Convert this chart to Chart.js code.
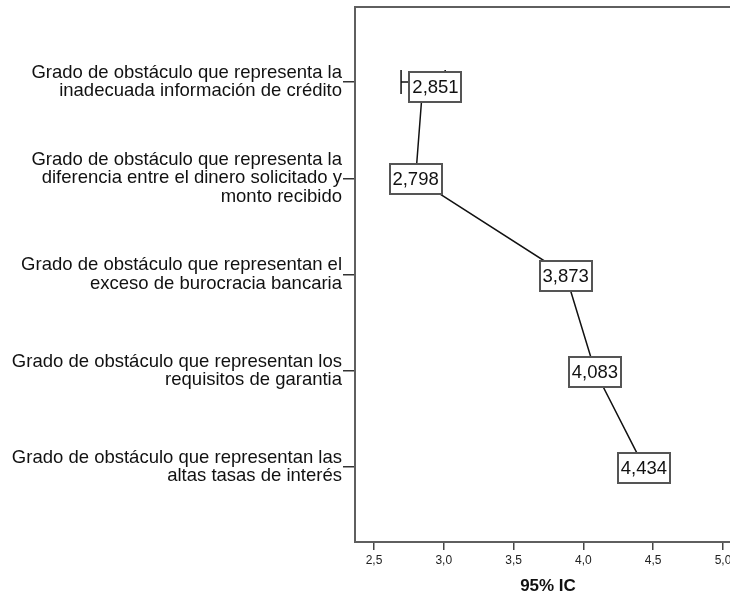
<!DOCTYPE html>
<html>
<head>
<meta charset="utf-8">
<script src="https://cdn.jsdelivr.net/npm/chart.js@4/dist/chart.umd.min.js"></script>
<style>
  html, body { margin: 0; padding: 0; background: #ffffff; overflow: hidden; width: 730px; height: 599px; }
  #wrap { width: 760px; height: 599px; }
</style>
</head>
<body>
<div id="wrap"><canvas id="c" width="760" height="599"></canvas></div>
<script>
// ---- data ----
const categories = [
  ["Grado de obstáculo que representa la", "inadecuada información de crédito"],
  ["Grado de obstáculo que representa la", "diferencia entre el dinero solicitado y", "monto recibido"],
  ["Grado de obstáculo que representan el", "exceso de burocracia bancaria"],
  ["Grado de obstáculo que representan los", "requisitos de garantia"],
  ["Grado de obstáculo que representan las", "altas tasas de interés"]
];
const means  = [2.851, 2.798, 3.873, 4.083, 4.434];
const ciLow  = [2.694, 2.64, 3.72, 3.93, 4.29];
const ciHigh = [3.010, 2.95, 4.02, 4.23, 4.58];
const xTickValues = [2.5, 3.0, 3.5, 4.0, 4.5, 5.0];
const xTickLabels = ["2,5", "3,0", "3,5", "4,0", "4,5", "5,0"];
const meanLabels = ["2,851", "2,798", "3,873", "4,083", "4,434"];
const xTitle = "95% IC";

const FONT = "'Liberation Sans', Arial, sans-serif";

const errorBarPlugin = {
  id: 'errorBarsAndLabels',
  afterDatasetsDraw(chart, args, opts) {
    const ctx = chart.ctx;
    const xs = chart.scales.x, ys = chart.scales.y;
    const area = chart.chartArea;
    ctx.save();
    // frame (top border)
    ctx.strokeStyle = '#5f5f5f';
    ctx.lineWidth = 2;
    ctx.beginPath();
    ctx.moveTo(area.left - 1, area.top);
    ctx.lineTo(area.right, area.top);
    ctx.lineTo(area.right, area.bottom);
    ctx.stroke();
    // error bars
    ctx.strokeStyle = '#111';
    ctx.lineWidth = 1.5;
    for (let i = 0; i < means.length; i++) {
      const y = ys.getPixelForValue(i);
      const x1 = xs.getPixelForValue(ciLow[i]);
      const x2 = xs.getPixelForValue(ciHigh[i]);
      const h = opts.capHalf;
      ctx.beginPath();
      ctx.moveTo(x1, y); ctx.lineTo(x2, y);
      ctx.moveTo(x1, y - h); ctx.lineTo(x1, y + h);
      ctx.moveTo(x2, y - h); ctx.lineTo(x2, y + h);
      ctx.stroke();
    }
    // value boxes
    ctx.font = '18.5px ' + FONT;
    ctx.textAlign = 'center';
    ctx.textBaseline = 'middle';
    for (let i = 0; i < means.length; i++) {
      const off = opts.offsets[i];
      const cx = xs.getPixelForValue(means[i]) + off[0];
      const cy = ys.getPixelForValue(i) + off[1];
      const tw = ctx.measureText(meanLabels[i]).width;
      const bw = Math.round(tw + 6), bh = 30;
      const bx = Math.round(cx - bw / 2), by = Math.round(cy - bh / 2);
      ctx.fillStyle = '#ffffff';
      ctx.fillRect(bx, by, bw, bh);
      ctx.strokeStyle = '#555';
      ctx.lineWidth = 2;
      ctx.strokeRect(bx, by, bw, bh);
      ctx.fillStyle = '#111';
      ctx.fillText(meanLabels[i], cx, cy + 1);
    }
    ctx.restore();
  }
};

new Chart(document.getElementById('c'), {
  type: 'scatter',
  data: {
    datasets: [{
      data: means.map((m, i) => ({ x: m, y: i })),
      showLine: true,
      borderColor: '#111',
      borderWidth: 1.5,
      pointRadius: 0,
      pointHoverRadius: 0,
      fill: false
    }]
  },
  options: {
    responsive: false,
    animation: false,
    devicePixelRatio: 1,
    layout: { padding: { top: 7, right: 19, left: 0, bottom: 0 } },
    plugins: {
      legend: { display: false },
      tooltip: { enabled: false },
      errorBarsAndLabels: {
        capHalf: 12,
        offsets: [[12.5, 5], [0, 1], [0, 1], [0, 1], [0, 1]]
      }
    },
    scales: {
      x: {
        type: 'linear',
        min: 2.364,
        max: 5.129,
        afterBuildTicks: (s) => { s.ticks = xTickValues.map(v => ({ value: v })); },
        afterFit: (s) => { s.height = 57; s.paddingLeft = 0; s.paddingRight = 0; },
        ticks: {
          callback: (v) => { const k = xTickValues.indexOf(v); return k >= 0 ? xTickLabels[k] : ''; },
          font: { family: FONT, size: 12 },
          color: '#222',
          padding: 3,
          maxRotation: 0,
          autoSkip: false
        },
        grid: { drawOnChartArea: false, drawTicks: true, tickLength: 8, color: '#444', lineWidth: 1.5 },
        border: { display: true, color: '#5f5f5f', width: 2 },
        title: {
          display: true,
          text: xTitle,
          font: { family: FONT, size: 17, weight: 'bold' },
          color: '#111',
          padding: { top: 4, bottom: 2 }
        }
      },
      y: {
        type: 'linear',
        reverse: true,
        min: -0.78,
        max: 4.78,
        afterBuildTicks: (s) => { s.ticks = categories.map((c, i) => ({ value: i })); },
        afterFit: (s) => { s.width = 355; s.paddingTop = 0; s.paddingBottom = 0; },
        ticks: {
          callback: (v) => categories[v] || '',
          font: { family: FONT, size: 18.5, lineHeight: 1.0 },
          color: '#111',
          padding: 1,
          autoSkip: false
        },
        grid: { drawOnChartArea: false, drawTicks: true, tickLength: 12, color: '#333', lineWidth: 1.5 },
        border: { display: true, color: '#5f5f5f', width: 2 }
      }
    }
  },
  plugins: [errorBarPlugin]
});
</script>
</body>
</html>
